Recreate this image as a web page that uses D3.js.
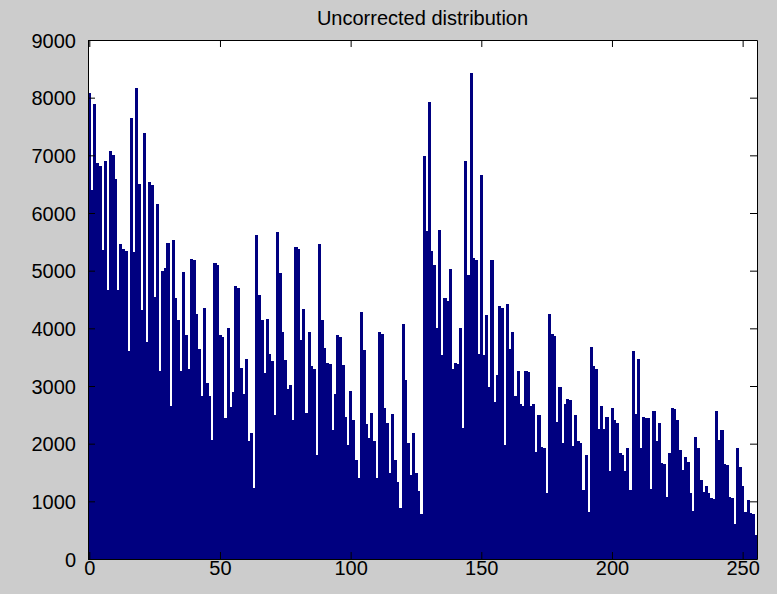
<!DOCTYPE html>
<html>
<head>
<meta charset="utf-8">
<script src="https://cdn.jsdelivr.net/npm/d3@7"></script>
<style>
  body { margin: 0; background: #cccccc; overflow: hidden; }
  svg { display: block; }
  .axis text { font-family: "Liberation Sans", Arial, sans-serif; font-size: 20px; fill: #000; }
  .axis path, .axis line { stroke: #000; }
</style>
</head>
<body>
<svg class="histogram" width="777" height="594"></svg>
<script>
  const title = 'Uncorrected distribution';

  // bin centres 0..255 (grey levels)
  const bins = d3.range(256);

  // counts per bin
  const counts = [
    8080, 6400, 7890, 6860, 6820, 5360, 6900, 4660, 7070, 7000, 6590, 4660, 5460, 5370, 5340, 3610,
    7650, 5330, 8160, 6510, 4310, 7380, 3770, 6530, 6480, 4550, 6160, 3260, 5000, 5050, 5480, 2650,
    5530, 4520, 4140, 3260, 4970, 3880, 3290, 5210, 5180, 4250, 3640, 2830, 4360,
    3050, 2830, 2070, 5140, 5100, 3880, 3850, 2440, 4010, 2630, 2890, 4730, 4700, 3320, 2860, 3470,
    2040, 2190, 1230, 5620, 4580, 4140, 3230, 4170, 3560, 3430, 2490, 5670, 4960, 3930, 3450, 2950,
    3020, 2410, 5410, 5380, 3800, 4330, 2540, 3930, 3340, 3300,
    1800, 5460, 4140, 3660, 3400, 3380, 2230, 2860, 3880, 3850, 3370, 2460, 1980, 2920, 2410, 1720,
    1410, 4280, 3630, 2340, 2100, 2540, 2040, 1410, 3930, 3900, 2620, 2350, 1500, 2510, 1720, 1330,
    890, 4070, 3100, 2010, 1450, 2190, 1500, 1180, 780,
    6980, 5680, 7920, 5340, 5090, 4010, 5700, 3530, 4520, 4480, 5030, 3290, 3400, 3380, 4010, 2280,
    6900, 4920, 8430, 5220, 5180, 3560, 6660, 3530, 4230, 2980, 5190, 2720, 3190, 4390, 4350, 1980,
    4430, 3640, 3930, 2830, 3260, 2680, 2650, 3260, 3240, 2650, 2680,
    1860, 2490, 1950, 1920, 1150, 4250, 3900, 3860, 2380, 2990, 2010, 2690, 2780, 2750, 1960, 2490,
    2040, 2010, 1190, 1800, 810, 3680, 3340, 3300, 2250, 2660, 2250, 2460, 1530, 2620, 2410, 2350,
    1840, 1800, 1530, 1930, 1200, 3610, 2510, 3470, 1930, 2460, 2450,
    2440, 1210, 2570, 2040, 2350, 1660, 1640, 1080, 1840, 2620, 2600, 2410, 1890, 1550, 1770, 1680,
    1150, 840, 2110, 1930, 1370, 1170, 1260, 1150, 1050, 1040, 2570, 2070, 2230, 1650, 1630, 1080,
    1050, 610, 1930, 1590, 1260, 810, 1020, 800, 780, 420
  ];

  const xTicks = [0, 50, 100, 150, 200, 250];
  const yTicks = [0, 1000, 2000, 3000, 4000, 5000, 6000, 7000, 8000, 9000];

  const svg = d3.select('.histogram');
  const width = +svg.attr('width');
  const height = +svg.attr('height');
  const margin = { top: 40, right: 20, bottom: 35, left: 88 };
  const innerWidth = width - margin.left - margin.right;
  const innerHeight = height - margin.top - margin.bottom;

  const xScale = d3.scaleLinear()
    .domain([-0.5, 255.5])
    .range([0, innerWidth]);

  const yScale = d3.scaleLinear()
    .domain([0, 9000])
    .range([innerHeight, 0]);

  const g = svg.append('g')
    .attr('transform', `translate(${margin.left},${margin.top})`);

  g.append('rect')
    .attr('width', innerWidth)
    .attr('height', innerHeight)
    .attr('fill', '#fff');

  // bars, crisp edges so neighbouring bins don't leave seams
  g.append('g')
    .attr('shape-rendering', 'crispEdges')
    .selectAll('rect').data(bins)
    .enter().append('rect')
      .attr('x', d => xScale(d - 0.5))
      .attr('width', d => xScale(d + 0.5) - xScale(d - 0.5) + 0.5)
      .attr('y', d => yScale(counts[d]))
      .attr('height', d => innerHeight - yScale(counts[d]))
      .attr('fill', '#000080');

  const tick = 7;
  const fmt = d3.format('d');

  g.append('g').attr('class', 'axis')
    .call(d3.axisLeft(yScale).tickValues(yTicks).tickFormat(fmt).tickSizeInner(-tick).tickSizeOuter(0).tickPadding(12))
    .call(a => a.selectAll('text').attr('dy', '0.35em'));

  g.append('g').attr('class', 'axis')
    .attr('transform', `translate(0,${innerHeight})`)
    .call(d3.axisBottom(xScale).tickValues(xTicks).tickFormat(fmt).tickSizeInner(-tick).tickSizeOuter(0).tickPadding(2))
    .call(a => a.selectAll('text').attr('dy', '0.71em'));

  g.append('g').attr('class', 'axis')
    .attr('transform', `translate(${innerWidth},0)`)
    .call(d3.axisRight(yScale).tickValues(yTicks).tickSizeInner(-tick).tickSizeOuter(0).tickFormat(''));

  g.append('g').attr('class', 'axis')
    .call(d3.axisTop(xScale).tickValues(xTicks).tickSizeInner(-tick).tickSizeOuter(0).tickFormat(''));

  svg.append('text')
    .attr('x', margin.left + innerWidth / 2)
    .attr('y', 25)
    .attr('text-anchor', 'middle')
    .attr('font-family', '"Liberation Sans", Arial, sans-serif')
    .attr('font-size', 20)
    .text(title);
</script>
</body>
</html>
